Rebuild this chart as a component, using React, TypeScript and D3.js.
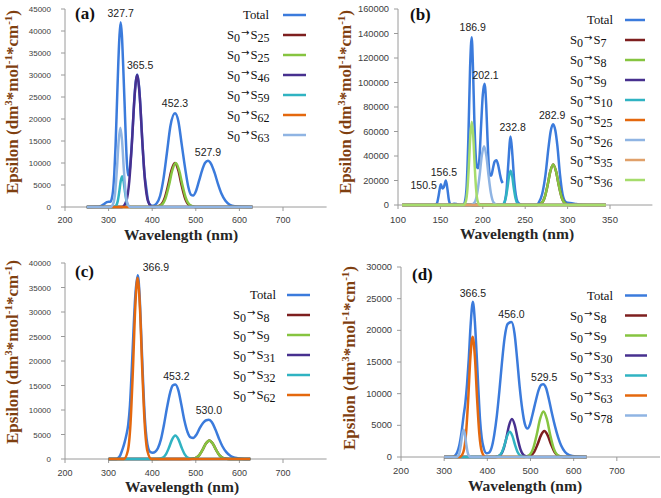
import React from 'react';
import * as d3 from 'd3';

type Pt = [number, number | null];

// ---------------- colours ----------------
const COL_TOTAL = '#3b7bdc';
const COL_DRED = '#7e1f1f';
const COL_GREEN = '#86c440';
const COL_PURPLE = '#47308f';
const COL_TEAL = '#30b3c2';
const COL_ORANGE = '#e4680e';
const COL_LBLUE = '#8fb4e3';
const COL_LORANGE = '#e0a06a';
const COL_LGREEN = '#a6dc6c';

// ---------------- panel (a) ----------------
const A_X_TICKS = [200, 300, 400, 500, 600, 700];
const A_Y_TICKS = [0, 5000, 10000, 15000, 20000, 25000, 30000, 35000, 40000, 45000];
const A_LEGEND_SUBS: (string | null)[] = [null, '25', '25', '46', '59', '62', '63'];
const A_TOTAL: Pt[] = [[250,0],[272,30],[283,250],[290,700],[296,1100],[300,1200],[304,1200],[307,1800],[310,3500],[313,7500],[316,14000],[319,23000],[322,32000],[325,39000],[327.7,42000],[330.5,39000],[333.5,32000],[336.5,24000],[339.5,15500],[342,10000],[344.5,7200],[347,7300],[350,10000],[353,14000],[357,21000],[361,27200],[365.5,30100],[370,27200],[374,21000],[378,13850],[382,7800],[386,4600],[391,1300],[396,450],[402,300],[410,800],[418,2500],[426,6500],[434,12500],[442,18500],[452.3,21300],[460,19500],[468,14000],[476,8500],[483,4500],[489,2800],[494,2600],[500,3500],[507,5800],[515,8500],[521,10000],[527.9,10500],[535,9800],[543,7800],[551,5200],[559,3000],[568,1400],[578,500],[590,150],[605,30],[630,0]];
const A_S25_RED: Pt[] = [[250,0],[406.5,0],[419.5,440],[428.6,1980],[436.4,4870],[444.2,8350],[452,10000],[459.8,8350],[467.6,4870],[475.4,1980],[484.5,440],[497.5,0],[630,0]];
const A_S25_GREEN: Pt[] = [[250,0],[408.5,0],[421.5,440],[430.6,1980],[438.4,4870],[446.2,8350],[454,10000],[461.8,8350],[469.6,4870],[477.4,1980],[486.5,440],[499.5,0],[630,0]];
const A_S46: Pt[] = [[250,0],[330.5,0],[340.5,1320],[347.5,5940],[353.5,14600],[359.5,25050],[365.5,30000],[371.5,25050],[377.5,14600],[383.5,5940],[390.5,1320],[400.5,0],[630,0]];
const A_S59: Pt[] = [[250,0],[311.75,0],[317.25,310],[321.1,1390],[324.4,3410],[327.7,5850],[331,7000],[334.3,5850],[337.6,3410],[340.9,1390],[344.75,310],[350.25,0],[630,0]];
const A_S62: Pt[] = [[250,0],[630,0]];
const A_S63: Pt[] = [[250,0],[304.25,0],[310.75,790],[315.3,3560],[319.2,8770],[323.1,15030],[327,18000],[330.9,15030],[334.8,8770],[338.7,3560],[343.25,790],[349.75,0],[630,0]];
const A_PEAK_LABELS = ['327.7', '365.5', '452.3', '527.9'];
const A_PEAK_WL = [327.7, 365.5, 452.3, 527.9];
const A_PEAK_EPS = [42000, 30000, 21300, 10500];

// ---------------- panel (b) ----------------
const B_X_TICKS = [100, 150, 200, 250, 300, 350];
const B_Y_TICKS = [0, 20000, 40000, 60000, 80000, 100000, 120000, 140000, 160000];
const B_LEGEND_SUBS: (string | null)[] = [null, '7', '8', '9', '10', '25', '26', '35', '36'];
const B_TOTAL: Pt[] = [[105,0],[143,0],[146,1500],[148,8000],[150.5,17000],[152.5,13500],[154,14500],[156.5,20000],[158.5,12000],[160,4000],[161.5,800],[163,300],[166,1000],[169,900],[172,200],[177,0],[179,3000],[181,16000],[183,55000],[185,112000],[186.9,137000],[188.5,110000],[190,70000],[191.5,42000],[193,31000],[194.5,30000],[196,38000],[198,65000],[200,90000],[202.1,99000],[204,82000],[205.5,55000],[207,33000],[208.5,24000],[210,24000],[212,30000],[214,35500],[216,36500],[218,33000],[220,26000],[222,20000],[223.5,18000],[224,null],[224.5,800],[226,3000],[228,12000],[230,33000],[232.8,56000],[235,40000],[237,20000],[239,8000],[241,2500],[244,500],[247,0],[263,0],[266,2000],[270,9000],[274,25000],[277.5,47000],[280,60000],[282.9,66000],[285.5,61000],[288,48000],[291,25000],[294,9000],[297,3000],[300,1800],[305,1500],[310,800],[318,200],[330,0],[345,0]];
const B_S7: Pt[] = [[105,0],[263.75,0],[269.25,1450],[273.1,6530],[276.4,16100],[279.7,27600],[283,33000],[286.3,27600],[289.6,16100],[292.9,6530],[296.75,1450],[302.25,0],[345,0]];
const B_S8: Pt[] = [[105,0],[263.75,0],[269.25,1450],[273.1,6530],[276.4,16100],[279.7,27600],[283,33000],[286.3,27600],[289.6,16100],[292.9,6530],[296.75,1450],[302.25,0],[345,0]];
const B_S9: Pt[] = [[105,0],[345,0]];
const B_S10: Pt[] = [[105,0],[221.6,0],[224.8,1230],[227,5540],[229,13640],[230.9,23380],[232.8,28000],[234.7,23380],[236.6,13640],[238.6,5540],[240.8,1230],[244,0],[345,0]];
const B_S25: Pt[] = [[105,0],[345,0]];
const B_S26: Pt[] = [[105,0],[185.75,0],[190.25,2110],[193.4,9500],[196.1,23380],[198.8,40080],[201.5,48000],[204.2,40080],[206.9,23380],[209.6,9500],[212.75,2110],[217.25,0],[345,0]];
const B_S35: Pt[] = [[105,0],[345,0]];
const B_S36: Pt[] = [[105,0],[177.2,0],[180,2990],[181.96,13460],[183.64,33120],[185.32,56780],[187,68000],[188.68,56780],[190.36,33120],[192.04,13460],[194,2990],[196.8,0],[345,0]];
const B_PEAK_LABELS = ['150.5', '156.5', '186.9', '202.1', '232.8', '282.9'];
const B_PEAK_WL = [150.5, 156.5, 186.9, 202.1, 232.8, 282.9];
const B_PEAK_EPS = [17000, 20000, 137000, 99000, 56000, 66000];

// ---------------- panel (c) ----------------
const C_X_TICKS = [200, 300, 400, 500, 600, 700];
const C_Y_TICKS = [0, 5000, 10000, 15000, 20000, 25000, 30000, 35000, 40000];
const C_LEGEND_SUBS: (string | null)[] = [null, '8', '9', '31', '32', '62'];
const C_TOTAL: Pt[] = [[300,0],[318,0],[322,200],[327,800],[332,2000],[337,3500],[341,5000],[345,7000],[349,11000],[353,18000],[357,26000],[361,33000],[366.9,37500],[371,33500],[375,25000],[379,16000],[383,8500],[387,4200],[391,2200],[396,1400],[401,1300],[407,1500],[413,2200],[420,4000],[427,7000],[434,10500],[441,13500],[447,15000],[453.2,15200],[460,14000],[467,11000],[474,7800],[481,5500],[488,4400],[494,4300],[501,4900],[509,6300],[517,7400],[524,7900],[530,8000],[537,7500],[545,6000],[553,4200],[561,2600],[570,1400],[580,600],[590,250],[600,100],[612,20],[625,0]];
const C_S8: Pt[] = [[300,0],[485.5,0],[498.5,170],[507.6,750],[515.4,1850],[523.2,3170],[531,3800],[538.8,3170],[546.6,1850],[554.4,750],[563.5,170],[576.5,0],[625,0]];
const C_S9: Pt[] = [[300,0],[485.5,0],[498.5,170],[507.6,750],[515.4,1850],[523.2,3170],[531,3800],[538.8,3170],[546.6,1850],[554.4,750],[563.5,170],[576.5,0],[625,0]];
const C_S31: Pt[] = [[300,0],[625,0]];
const C_S32: Pt[] = [[300,0],[411,0],[423,210],[431.4,950],[438.6,2340],[445.8,4010],[453,4800],[460.2,4010],[467.4,2340],[474.6,950],[483,210],[495,0],[625,0]];
const C_S62: Pt[] = [[300,0],[335,0],[344,1630],[350.3,7330],[355.7,18020],[361.1,30900],[366.5,37000],[371.9,30900],[377.3,18020],[382.7,7330],[389,1630],[398,0],[625,0]];
const C_PEAK_LABELS = ['366.9', '453.2', '530.0'];
const C_PEAK_WL = [366.9, 453.2, 530.0];
const C_PEAK_EPS = [37500, 15200, 8000];

// ---------------- panel (d) ----------------
const D_X_TICKS = [200, 300, 400, 500, 600, 700];
const D_Y_TICKS = [0, 5000, 10000, 15000, 20000, 25000, 30000];
const D_LEGEND_SUBS: (string | null)[] = [null, '8', '9', '30', '33', '63', '78'];
const D_TOTAL: Pt[] = [[300,0],[318,0],[325,200],[330,700],[335,1800],[340,3800],[345,6500],[349,8500],[353,11500],[357,15500],[361,20500],[366.5,24500],[371,21500],[375,16500],[379,11000],[383,6000],[387,3000],[392,1300],[398,600],[404,700],[410,1500],[416,3500],[422,6500],[428,10500],[434,15000],[440,18800],[447,21000],[456,21300],[463,19500],[469,15500],[475,11000],[481,7500],[487,5200],[493,4500],[499,5200],[505,6800],[512,8800],[519,10600],[525,11400],[529.5,11500],[536,10900],[543,9000],[550,6800],[557,4800],[564,3100],[571,1800],[580,800],[590,300],[605,80],[630,0]];
const D_S8: Pt[] = [[300,0],[486.5,0],[499.5,180],[508.6,810],[516.4,2000],[524.2,3420],[532,4100],[539.8,3420],[547.6,2000],[555.4,810],[564.5,180],[577.5,0],[630,0]];
const D_S9: Pt[] = [[300,0],[484.5,0],[497.5,320],[506.6,1430],[514.4,3510],[522.2,6010],[530,7200],[537.8,6010],[545.6,3510],[553.4,1430],[562.5,320],[575.5,0],[630,0]];
const D_S30: Pt[] = [[300,0],[418.5,0],[429.5,260],[437.2,1190],[443.8,2920],[450.4,5010],[457,6000],[463.6,5010],[470.2,2920],[476.8,1190],[484.5,260],[495.5,0],[630,0]];
const D_S33: Pt[] = [[300,0],[417,0],[427,180],[434,790],[440,1950],[446,3340],[452,4000],[458,3340],[464,1950],[470,790],[477,180],[487,0],[630,0]];
const D_S63: Pt[] = [[300,0],[336.25,0],[344.75,840],[350.7,3760],[355.8,9250],[360.9,15870],[366,19000],[371.1,15870],[376.2,9250],[381.3,3760],[387.25,840],[395.75,0],[630,0]];
const D_S78: Pt[] = [[300,0],[327.5,0],[332.5,190],[336,850],[339,2090],[342,3590],[345,4300],[348,3590],[351,2090],[354,850],[357.5,190],[362.5,0],[630,0]];
const D_PEAK_LABELS = ['366.5', '456.0', '529.5'];
const D_PEAK_WL = [366.5, 456.0, 529.5];
const D_PEAK_EPS = [24500, 21300, 11500];

// ---------------- layout ----------------
const SERIF = "'Liberation Serif', 'Times New Roman', serif";
const SANS = "'Liberation Sans', Arial, sans-serif";
const ARROW_FONT = "'DejaVu Sans', sans-serif";

interface PanelSpec {
  tag: string;
  xDomain: [number, number]; xRange: [number, number];
  yDomain: [number, number]; yRange: [number, number];
  xTicks: number[]; yTicks: number[];
  series: Pt[][]; colors: string[]; legendSubs: (string | null)[];
  peakLabels: string[]; peakWl: number[]; peakEps: number[];
  peakAnchor: string[]; peakDx: number[]; peakDy: number[];
  yTickFont: number; xTickFont: number; yTickEnd: number; xTickDy: number;
  legendX: number; legendTotalEnd: number; legendLine: [number, number]; legendY0: number; legendStep: number;
  tagX: number; tagY: number;
  yTitleX: number; yTitleY: number; xTitleX: number; xTitleY: number;
}

const PANELS: PanelSpec[] = [
  {
    tag: '(a)', xDomain: [200, 800], xRange: [65, 326.6], yDomain: [0, 45000], yRange: [207, 9],
    xTicks: A_X_TICKS, yTicks: A_Y_TICKS,
    series: [A_TOTAL, A_S25_RED, A_S25_GREEN, A_S46, A_S59, A_S62, A_S63],
    colors: [COL_TOTAL, COL_DRED, COL_GREEN, COL_PURPLE, COL_TEAL, COL_ORANGE, COL_LBLUE],
    legendSubs: A_LEGEND_SUBS,
    peakLabels: A_PEAK_LABELS, peakWl: A_PEAK_WL, peakEps: A_PEAK_EPS,
    peakAnchor: ['middle', 'middle', 'middle', 'middle'], peakDx: [0, 3, 0, 0], peakDy: [-5, -6, -6, -5],
    yTickFont: 8, xTickFont: 9, yTickEnd: 51, xTickDy: 16,
    legendX: 227, legendTotalEnd: 269, legendLine: [283, 306], legendY0: 15, legendStep: 20,
    tagX: 75, tagY: 19, yTitleX: 18, yTitleY: 102, xTitleX: 181, xTitleY: 240,
  },
  {
    tag: '(b)', xDomain: [100, 400], xRange: [398, 652.4], yDomain: [0, 160000], yRange: [205, 9],
    xTicks: B_X_TICKS, yTicks: B_Y_TICKS,
    series: [B_TOTAL, B_S7, B_S8, B_S9, B_S10, B_S25, B_S26, B_S35, B_S36],
    colors: [COL_TOTAL, COL_DRED, COL_GREEN, COL_PURPLE, COL_TEAL, COL_ORANGE, COL_LBLUE, COL_LORANGE, COL_LGREEN],
    legendSubs: B_LEGEND_SUBS,
    peakLabels: B_PEAK_LABELS, peakWl: B_PEAK_WL, peakEps: B_PEAK_EPS,
    peakAnchor: ['end', 'middle', 'middle', 'middle', 'middle', 'middle'], peakDx: [-4, -2, 1, 1, 2, -1], peakDy: [5, -5, -6, -5, -5, -5],
    yTickFont: 9.3, xTickFont: 9.5, yTickEnd: 389, xTickDy: 17.5,
    legendX: 570, legendTotalEnd: 613, legendLine: [625, 645], legendY0: 20, legendStep: 20,
    tagX: 410, tagY: 20, yTitleX: 351, yTitleY: 102, xTitleX: 517, xTitleY: 238.5,
  },
  {
    tag: '(c)', xDomain: [200, 800], xRange: [65, 326.6], yDomain: [0, 40000], yRange: [459, 263],
    xTicks: C_X_TICKS, yTicks: C_Y_TICKS,
    series: [C_TOTAL, C_S8, C_S9, C_S31, C_S32, C_S62],
    colors: [COL_TOTAL, COL_DRED, COL_GREEN, COL_PURPLE, COL_TEAL, COL_ORANGE],
    legendSubs: C_LEGEND_SUBS,
    peakLabels: C_PEAK_LABELS, peakWl: C_PEAK_WL, peakEps: C_PEAK_EPS,
    peakAnchor: ['start', 'middle', 'middle'], peakDx: [5, 1, 0], peakDy: [-4, -5, -5.5],
    yTickFont: 8, xTickFont: 9, yTickEnd: 51, xTickDy: 16.5,
    legendX: 233, legendTotalEnd: 276, legendLine: [287, 310], legendY0: 295, legendStep: 20,
    tagX: 75, tagY: 277, yTitleX: 18, yTitleY: 352, xTitleX: 182, xTitleY: 491.5,
  },
  {
    tag: '(d)', xDomain: [200, 800], xRange: [401, 660], yDomain: [0, 30000], yRange: [457, 267],
    xTicks: D_X_TICKS, yTicks: D_Y_TICKS,
    series: [D_TOTAL, D_S8, D_S9, D_S30, D_S33, D_S63, D_S78],
    colors: [COL_TOTAL, COL_DRED, COL_GREEN, COL_PURPLE, COL_TEAL, COL_ORANGE, COL_LBLUE],
    legendSubs: D_LEGEND_SUBS,
    peakLabels: D_PEAK_LABELS, peakWl: D_PEAK_WL, peakEps: D_PEAK_EPS,
    peakAnchor: ['middle', 'middle', 'middle'], peakDx: [0, 0, 1], peakDy: [-5, -4.5, -3],
    yTickFont: 9.3, xTickFont: 9.5, yTickEnd: 392, xTickDy: 17,
    legendX: 570, legendTotalEnd: 613, legendLine: [625, 647], legendY0: 295.5, legendStep: 20,
    tagX: 412, tagY: 280, yTitleX: 355, yTitleY: 358, xTitleX: 525, xTitleY: 490.5,
  },
];

function Panel({ p }: { p: PanelSpec }) {
  const x = d3.scaleLinear().domain(p.xDomain).range(p.xRange);
  const y = d3.scaleLinear().domain(p.yDomain).range(p.yRange);
  const line = d3.line<Pt>()
    .defined((d) => d[1] != null)
    .x((d) => x(d[0]))
    .y((d) => y(d[1] as number))
    .curve(d3.curveMonotoneX);
  const x0 = p.xRange[0];
  const y0 = y(0);
  const axisColor = '#9a9a9a';
  return (
    <g>
      <line x1={x0} x2={x0} y1={y(p.yDomain[0])} y2={y(p.yDomain[1])} stroke={axisColor} strokeWidth={1} />
      <line x1={x0} x2={p.xRange[1]} y1={y0} y2={y0} stroke={axisColor} strokeWidth={1} />
      {p.yTicks.map((t) => (
        <g key={'yt' + t}>
          <line x1={x0 - 4} x2={x0} y1={y(t)} y2={y(t)} stroke={axisColor} />
          <text x={p.yTickEnd} y={y(t) + 3} textAnchor="end" fontFamily={SANS} fontSize={p.yTickFont} fill="#404040">{t}</text>
        </g>
      ))}
      {p.xTicks.map((t) => (
        <g key={'xt' + t}>
          <line x1={x(t)} x2={x(t)} y1={y0} y2={y0 + 4} stroke={axisColor} />
          <text x={x(t)} y={y0 + p.xTickDy} textAnchor="middle" fontFamily={SANS} fontSize={p.xTickFont} fill="#404040">{t}</text>
        </g>
      ))}
      {p.series.map((s, i) => (
        <path key={'s' + i} d={line(s) || ''} fill="none" stroke={p.colors[i]} strokeWidth={2.5} strokeLinejoin="round" />
      ))}
      {p.peakLabels.map((lab, i) => (
        <text key={'pk' + i} x={x(p.peakWl[i]) + p.peakDx[i]} y={y(p.peakEps[i]) + p.peakDy[i]}
          textAnchor={p.peakAnchor[i] as any} fontFamily={SANS} fontSize={10.5} fill="#222">{lab}</text>
      ))}
      {p.legendSubs.map((sub, i) => {
        const ly = p.legendY0 + i * p.legendStep;
        return (
          <g key={'lg' + i}>
            {sub == null ? (
              <text x={p.legendTotalEnd} y={ly + 4} textAnchor="end" fontFamily={SERIF} fontSize={12.7} fill="#111">Total</text>
            ) : (
              <text x={p.legendX} y={ly + 4} fontFamily={SERIF} fontSize={12.7} fill="#111">
                S<tspan dy={3} fontSize={12}>0</tspan><tspan dy={-6} dx={1} fontSize={10} fontFamily={ARROW_FONT}>{'\u2192'}</tspan><tspan dy={3} dx={1} fontSize={12.7}>S</tspan><tspan dy={3} fontSize={12}>{sub}</tspan>
              </text>
            )}
            <line x1={p.legendLine[0]} x2={p.legendLine[1]} y1={ly} y2={ly} stroke={p.colors[i]} strokeWidth={2.5} />
          </g>
        );
      })}
      <text x={p.tagX} y={p.tagY} fontFamily={SERIF} fontWeight="bold" fontSize={17} fill="#111">{p.tag}</text>
      <text transform={`translate(${p.yTitleX},${p.yTitleY}) rotate(-90)`} textAnchor="middle" fontFamily={SERIF} fontWeight="bold" fontSize={17} fill="#7f3f10">
        Epsilon (dm<tspan dy={-6} fontSize={11}>3</tspan><tspan dy={6}>*mol</tspan><tspan dy={-6} fontSize={11}>-1</tspan><tspan dy={6}>*cm</tspan><tspan dy={-6} fontSize={11}>-1</tspan><tspan dy={6}>)</tspan>
      </text>
      <text x={p.xTitleX} y={p.xTitleY} textAnchor="middle" fontFamily={SERIF} fontWeight="bold" fontSize={15.5} fill="#262626">Wavelength (nm)</text>
    </g>
  );
}

export default function App() {
  return (
    <svg width={661} height={498} viewBox="0 0 661 498" style={{ position: 'absolute', left: 0, top: 0, background: '#fff' }}>
      <rect x={0} y={0} width={661} height={498} fill="#fff" />
      {PANELS.map((p) => <Panel key={p.tag} p={p} />)}
    </svg>
  );
}
